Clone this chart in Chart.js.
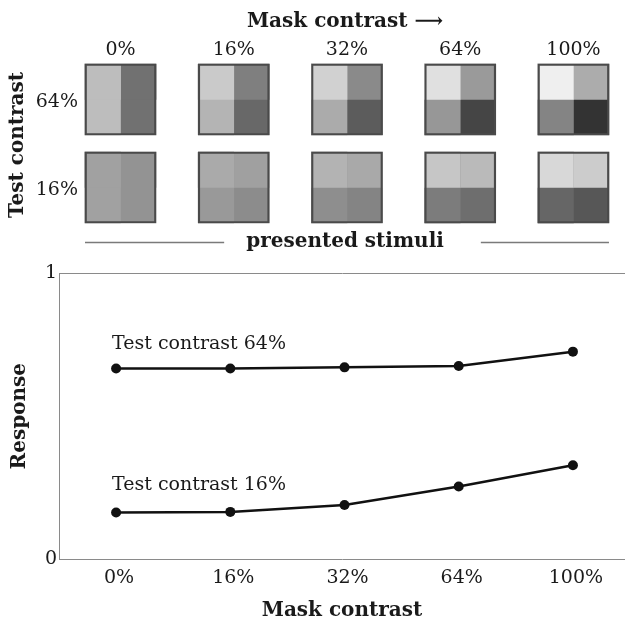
<!DOCTYPE html>
<html><head><meta charset="utf-8">
<script src="https://cdn.jsdelivr.net/npm/chart.js@4"></script>
<style>
html,body{margin:0;padding:0;background:#fff;overflow:hidden;width:625px;height:620px;}
#topc{position:absolute;left:0;top:0;}
#botc{position:absolute;left:0;top:260px;}
</style></head><body>
<canvas id="topc" width="625" height="260"></canvas>
<canvas id="botc" width="625" height="363"></canvas>
<script>
const maskLabels = ['0%','16%','32%','64%','100%'];
const testLabels = ['16%','64%']; // stimulus rows, bottom to top
const response64 = [0.667,0.667,0.671,0.676,0.726];
const response16 = [0.163,0.165,0.189,0.254,0.328];
// grey level (0 black .. 255 white) of each stimulus cell, per mask contrast
const stim64TopLeft     = [189,202,209,224,239];
const stim64TopRight    = [113,127,138,154,172];
const stim64BottomLeft  = [189,180,171,151,132];
const stim64BottomRight = [113,104, 92, 69, 51];
const stim16TopLeft     = [161,170,179,198,216];
const stim16TopRight    = [147,160,169,186,204];
const stim16BottomLeft  = [161,153,142,124,102];
const stim16BottomRight = [147,140,132,110, 87];

const FONT = "'DejaVu Serif', serif";
const INK = '#1a1a1a';
Chart.defaults.font.family = FONT;
Chart.defaults.color = INK;

const SQ = 71;          // stimulus square size in px
const COL_PX = 113.25;  // px per mask column
const ROW_PX = 88;      // px per stimulus row
const SHIFT = SQ/4/COL_PX;
const H = SQ/2/ROW_PX;
const grey = g => `rgb(${g},${g},${g})`;

function layer(row, greys, part, order){
  const left = part==='left' || part==='topleft';
  const topOnly = part==='top' || part==='topleft';
  return {
    data: greys.map((g,i)=>({x: left ? i-SHIFT : i, y:[topOnly ? row : row-H, row+H]})),
    backgroundColor: greys.map(grey),
    borderWidth: 0, barThickness: left ? SQ/2 : SQ,
    grouped:false, order, clip:false
  };
}
const stimDatasets = [];
[[0,stim16TopLeft,stim16TopRight,stim16BottomLeft,stim16BottomRight],
 [1,stim64TopLeft,stim64TopRight,stim64BottomLeft,stim64BottomRight]].forEach(([r,tl,tr,bl,br])=>{
  stimDatasets.push(layer(r,br,'full',5));
  stimDatasets.push(layer(r,tr,'top',4));
  stimDatasets.push(layer(r,bl,'left',3));
  stimDatasets.push(layer(r,tl,'topleft',2));
});
const outline = [];
testLabels.forEach((_,r)=>maskLabels.forEach((_,i)=>outline.push({x:i,y:[r-H,r+H]})));
stimDatasets.push({data:outline, backgroundColor:'rgba(0,0,0,0)', borderColor:'#4a4a4a', borderWidth:1.5,
  borderSkipped:false, barThickness:SQ, grouped:false, order:1, clip:false});

const sideLines = {
  id:'sideLines',
  afterDraw(chart){
    const ctx = chart.ctx, a = chart.chartArea, xs = chart.scales.x;
    ctx.save();
    ctx.font = `bold 20px ${FONT}`;
    const w = ctx.measureText('presented stimuli').width;
    const c = (a.left+a.right)/2;
    const y = 242.5;
    ctx.strokeStyle = '#7a7a7a'; ctx.lineWidth = 1.3;
    ctx.beginPath();
    ctx.moveTo(xs.getPixelForValue(0)-SQ/2, y); ctx.lineTo(c-w/2-22, y);
    ctx.moveTo(c+w/2+37, y); ctx.lineTo(xs.getPixelForValue(4)+SQ/2, y);
    ctx.stroke();
    ctx.restore();
  }
};

new Chart(document.getElementById('topc'), {
  type:'bar',
  data:{datasets: stimDatasets},
  options:{
    responsive:false, animation:false, devicePixelRatio:1,
    layout:{autoPadding:false, padding:{top:0,left:0,right:17,bottom:0}},
    plugins:{legend:{display:false}, tooltip:{enabled:false}},
    scales:{
      x:{type:'linear', position:'top', offset:false, min:-0.34, max:4.305,
        afterBuildTicks: ax=>{ ax.ticks = maskLabels.map((_,i)=>({value:i})); },
        ticks:{callback:v=>maskLabels[v], font:{size:19}, color:INK, padding:1, maxRotation:0, autoSkip:false},
        grid:{display:false, drawTicks:false, offset:false}, border:{display:false},
        title:{display:true, text:'Mask contrast \u27F6', font:{size:20, weight:'bold'}, color:INK, padding:{top:10,bottom:0}},
        afterFit: ax=>{ ax.height = 62; }
      },
      x2:{type:'linear', position:'bottom', min:0, max:1,
        ticks:{display:false}, grid:{display:false, drawTicks:false}, border:{display:false},
        title:{display:true, text:'presented stimuli', font:{size:20, weight:'bold'}, color:INK, padding:{top:0,bottom:6}},
        afterFit: ax=>{ ax.height = 32; }
      },
      y:{type:'linear', min:-0.46, max:1.426,
        afterBuildTicks: ax=>{ ax.ticks = testLabels.map((_,i)=>({value:i})); },
        ticks:{callback:v=>testLabels[v], font:{size:19}, color:INK, padding:4, labelOffset:3},
        grid:{display:false, drawTicks:false}, border:{display:false},
        title:{display:true, text:'Test contrast', font:{size:20, weight:'bold'}, color:INK, padding:{top:6,bottom:0}},
        afterFit: ax=>{ ax.width = 82; }
      }
    }
  },
  plugins:[sideLines]
});

const seriesLabels = {
  id:'seriesLabels',
  afterDatasetsDraw(chart){
    const ctx = chart.ctx, xs = chart.scales.x, ys = chart.scales.y;
    ctx.save();
    ctx.font = `19px ${FONT}`; ctx.fillStyle = INK; ctx.textBaseline = 'alphabetic'; ctx.textAlign = 'left';
    ctx.fillText('Test contrast 64%', xs.getPixelForValue(0)-4, ys.getPixelForValue(response64[0])-20);
    ctx.fillText('Test contrast 16%', xs.getPixelForValue(0)-4, ys.getPixelForValue(response16[0])-22);
    ctx.restore();
  }
};
const lineStyle = {borderColor:'#111', borderWidth:2.5, pointRadius:5, pointBackgroundColor:'#111', pointBorderWidth:0, tension:0, clip:false};
new Chart(document.getElementById('botc'), {
  type:'line',
  data:{datasets:[
    Object.assign({data: response64.map((v,i)=>({x:i,y:v}))}, lineStyle),
    Object.assign({data: response16.map((v,i)=>({x:i,y:v}))}, lineStyle)
  ]},
  options:{
    responsive:false, animation:false, devicePixelRatio:1,
    layout:{autoPadding:false, padding:{top:12,left:0,right:0,bottom:0}},
    plugins:{legend:{display:false}, tooltip:{enabled:false}},
    scales:{
      x:{type:'linear', min:-0.5, max:4.456,
        afterBuildTicks: ax=>{ ax.ticks = maskLabels.map((_,i)=>({value:i})); },
        ticks:{callback:v=>maskLabels[v], font:{size:19}, color:INK, padding:8, labelOffset:3, maxRotation:0, autoSkip:false},
        grid:{display:false, drawTicks:false}, border:{display:true, color:'#8a8a8a', width:1},
        title:{display:true, text:'Mask contrast', font:{size:20, weight:'bold'}, color:INK, padding:{top:0,bottom:0}},
        afterFit: ax=>{ ax.height = 64; }
      },
      x2:{type:'linear', position:'top', min:0, max:1,
        ticks:{display:false}, grid:{display:false, drawTicks:false}, border:{display:true, color:'#8a8a8a', width:1},
        afterFit: ax=>{ ax.height = 0; }
      },
      y:{type:'linear', min:0, max:1,
        afterBuildTicks: ax=>{ ax.ticks = [{value:0},{value:1}]; },
        ticks:{callback:v=>String(v), font:{size:19}, color:INK, padding:2},
        grid:{display:false, drawTicks:false}, border:{display:true, color:'#8a8a8a', width:1},
        title:{display:true, text:'Response', font:{size:20, weight:'bold'}, color:INK, padding:{top:8,bottom:0}},
        afterFit: ax=>{ ax.width = 59; }
      }
    }
  },
  plugins:[seriesLabels]
});
</script></body></html>
